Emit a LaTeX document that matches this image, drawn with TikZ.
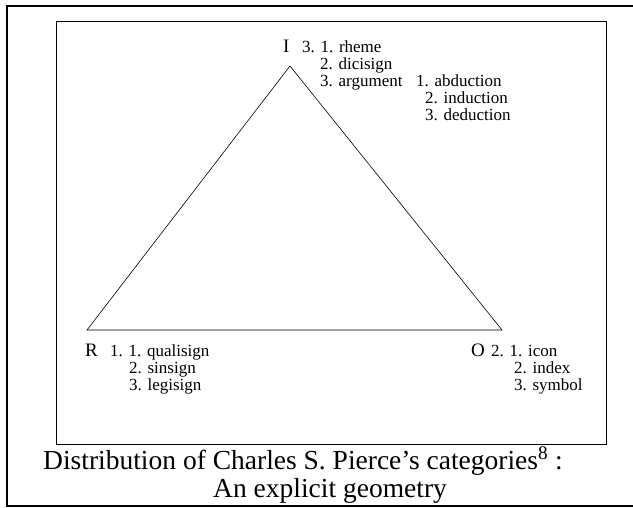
\documentclass[tikz,border=0pt]{standalone}
\usepackage{fontspec}
\setmainfont{Liberation Serif}
\begin{document}
\begin{tikzpicture}[x=1pt,y=-1pt,
  lbl/.style={anchor=base west,inner sep=0pt,font=\fontsize{17}{20}\selectfont},
  biglbl/.style={anchor=base west,inner sep=0pt,font=\fontsize{19}{22}\selectfont},
  captext/.style={anchor=base west,inner sep=0pt,font=\fontsize{27.5}{30}\selectfont},
  frameline/.style={draw=black,line width=1.6pt},
  panelbox/.style={draw=black,line width=0.8pt},
  sideline/.style={draw=black,line width=0.6pt}]
\useasboundingbox (0,0) rectangle (633,507);
\fill[white] (0,0) rectangle (633,507);
% outer frame
\draw[frameline] (640,6) -- (7,6) -- (7,506) -- (640,506);
% inner box
\node[panelbox,minimum width=550pt,minimum height=423pt,inner sep=0pt,anchor=north west] (panel) at (56,21) {};
% triangle
\coordinate (I) at (290,66);
\coordinate (R) at (87,330);
\coordinate (O) at (502,330);
\draw[sideline] (I) -- (R) -- (O) -- cycle;
% I labels
\node[biglbl] (Il) at (283,52) {I};
\node[lbl] (I1) at (302,52) {3. 1. rheme};
\node[lbl] (I2) at (320,69) {2. dicisign};
\node[lbl] (I3) at (320,86) {3. argument};
\node[lbl] (I4) at (416,86) {1. abduction};
\node[lbl] (I5) at (425,103) {2. induction};
\node[lbl] (I6) at (425,120) {3. deduction};
% R labels
\node[biglbl] (Rl) at (85,356) {R};
\node[lbl] (R1) at (110,356) {1. 1. qualisign};
\node[lbl] (R2) at (129,373) {2. sinsign};
\node[lbl] (R3) at (129,390) {3. legisign};
% O labels
\node[biglbl] (Ol) at (471,356) {O};
\node[lbl] (O1) at (491,356) {2. 1. icon};
\node[lbl] (O2) at (514,373) {2. index};
\node[lbl] (O3) at (514,390) {3. symbol};
% caption
\node[captext] (c1) at (43,469) {Distribution of Charles S. Pierce’s categories\textsuperscript{8} :};
\node[captext] (c2) at (213,497) {An explicit geometry};
\end{tikzpicture}
\end{document}
